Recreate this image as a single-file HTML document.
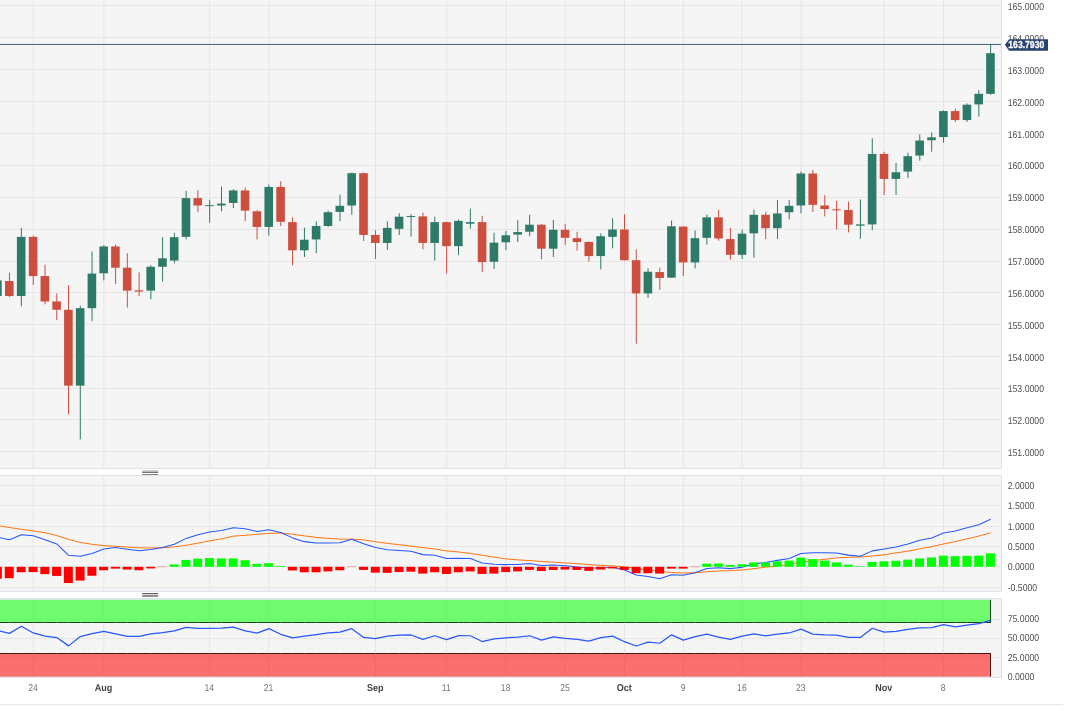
<!DOCTYPE html>
<html><head><meta charset="utf-8"><title>Chart</title>
<style>html,body{margin:0;padding:0;background:#ffffff;overflow:hidden}body{width:1070px;height:711px;position:relative;font-family:"Liberation Sans",sans-serif}</style>
</head><body>
<svg width="1070" height="711" viewBox="0 0 1070 711" style="position:absolute;left:0;top:0;display:block">
<rect x="0" y="0" width="1070" height="711" fill="#ffffff"/>
<rect x="0" y="0" width="1001.5" height="468.4" fill="#f5f5f5"/>
<rect x="0" y="475.4" width="1001.5" height="115.89999999999998" fill="#f5f5f5"/>
<rect x="0" y="598.7" width="1001.5" height="78.59999999999991" fill="#f5f5f5"/>
<rect x="32.75" y="0" width="1" height="468.4" fill="#e6e6e6"/>
<rect x="103.31" y="0" width="1" height="468.4" fill="#e6e6e6"/>
<rect x="209.15" y="0" width="1" height="468.4" fill="#e6e6e6"/>
<rect x="268.38" y="0" width="1" height="468.4" fill="#e6e6e6"/>
<rect x="375" y="0" width="1" height="468.4" fill="#e6e6e6"/>
<rect x="446.14" y="0" width="1" height="468.4" fill="#e6e6e6"/>
<rect x="505.43" y="0" width="1" height="468.4" fill="#e6e6e6"/>
<rect x="564.71" y="0" width="1" height="468.4" fill="#e6e6e6"/>
<rect x="624" y="0" width="1" height="468.4" fill="#e6e6e6"/>
<rect x="682.83" y="0" width="1" height="468.4" fill="#e6e6e6"/>
<rect x="741.67" y="0" width="1" height="468.4" fill="#e6e6e6"/>
<rect x="800.5" y="0" width="1" height="468.4" fill="#e6e6e6"/>
<rect x="883.65" y="0" width="1" height="468.4" fill="#e6e6e6"/>
<rect x="943.05" y="0" width="1" height="468.4" fill="#e6e6e6"/>
<rect x="0" y="451" width="1001.5" height="1" fill="#e6e6e6"/>
<rect x="0" y="419" width="1001.5" height="1" fill="#e6e6e6"/>
<rect x="0" y="388" width="1001.5" height="1" fill="#e6e6e6"/>
<rect x="0" y="356" width="1001.5" height="1" fill="#e6e6e6"/>
<rect x="0" y="324" width="1001.5" height="1" fill="#e6e6e6"/>
<rect x="0" y="292" width="1001.5" height="1" fill="#e6e6e6"/>
<rect x="0" y="261" width="1001.5" height="1" fill="#e6e6e6"/>
<rect x="0" y="229" width="1001.5" height="1" fill="#e6e6e6"/>
<rect x="0" y="197" width="1001.5" height="1" fill="#e6e6e6"/>
<rect x="0" y="165" width="1001.5" height="1" fill="#e6e6e6"/>
<rect x="0" y="133" width="1001.5" height="1" fill="#e6e6e6"/>
<rect x="0" y="101" width="1001.5" height="1" fill="#e6e6e6"/>
<rect x="0" y="69" width="1001.5" height="1" fill="#e6e6e6"/>
<rect x="0" y="37" width="1001.5" height="1" fill="#e6e6e6"/>
<rect x="0" y="5" width="1001.5" height="1" fill="#e6e6e6"/>
<rect x="32.75" y="475.4" width="1" height="115.9" fill="#e6e6e6"/>
<rect x="103.31" y="475.4" width="1" height="115.9" fill="#e6e6e6"/>
<rect x="209.15" y="475.4" width="1" height="115.9" fill="#e6e6e6"/>
<rect x="268.38" y="475.4" width="1" height="115.9" fill="#e6e6e6"/>
<rect x="375" y="475.4" width="1" height="115.9" fill="#e6e6e6"/>
<rect x="446.14" y="475.4" width="1" height="115.9" fill="#e6e6e6"/>
<rect x="505.43" y="475.4" width="1" height="115.9" fill="#e6e6e6"/>
<rect x="564.71" y="475.4" width="1" height="115.9" fill="#e6e6e6"/>
<rect x="624" y="475.4" width="1" height="115.9" fill="#e6e6e6"/>
<rect x="682.83" y="475.4" width="1" height="115.9" fill="#e6e6e6"/>
<rect x="741.67" y="475.4" width="1" height="115.9" fill="#e6e6e6"/>
<rect x="800.5" y="475.4" width="1" height="115.9" fill="#e6e6e6"/>
<rect x="883.65" y="475.4" width="1" height="115.9" fill="#e6e6e6"/>
<rect x="943.05" y="475.4" width="1" height="115.9" fill="#e6e6e6"/>
<rect x="0" y="485" width="1001.5" height="1" fill="#e6e6e6"/>
<rect x="0" y="505" width="1001.5" height="1" fill="#e6e6e6"/>
<rect x="0" y="526" width="1001.5" height="1" fill="#e6e6e6"/>
<rect x="0" y="546" width="1001.5" height="1" fill="#e6e6e6"/>
<rect x="0" y="566" width="1001.5" height="1" fill="#e6e6e6"/>
<rect x="0" y="587" width="1001.5" height="1" fill="#e6e6e6"/>
<rect x="32.75" y="598.7" width="1" height="78.6" fill="#e6e6e6"/>
<rect x="103.31" y="598.7" width="1" height="78.6" fill="#e6e6e6"/>
<rect x="209.15" y="598.7" width="1" height="78.6" fill="#e6e6e6"/>
<rect x="268.38" y="598.7" width="1" height="78.6" fill="#e6e6e6"/>
<rect x="375" y="598.7" width="1" height="78.6" fill="#e6e6e6"/>
<rect x="446.14" y="598.7" width="1" height="78.6" fill="#e6e6e6"/>
<rect x="505.43" y="598.7" width="1" height="78.6" fill="#e6e6e6"/>
<rect x="564.71" y="598.7" width="1" height="78.6" fill="#e6e6e6"/>
<rect x="624" y="598.7" width="1" height="78.6" fill="#e6e6e6"/>
<rect x="682.83" y="598.7" width="1" height="78.6" fill="#e6e6e6"/>
<rect x="741.67" y="598.7" width="1" height="78.6" fill="#e6e6e6"/>
<rect x="800.5" y="598.7" width="1" height="78.6" fill="#e6e6e6"/>
<rect x="883.65" y="598.7" width="1" height="78.6" fill="#e6e6e6"/>
<rect x="943.05" y="598.7" width="1" height="78.6" fill="#e6e6e6"/>
<rect x="0" y="619" width="1001.5" height="1" fill="#e6e6e6"/>
<rect x="0" y="638" width="1001.5" height="1" fill="#e6e6e6"/>
<rect x="0" y="657" width="1001.5" height="1" fill="#e6e6e6"/>
<rect x="-2.95" y="277" width="1" height="21.9" fill="#2e7a68"/>
<rect x="-6.9" y="280.41" width="8.6" height="15.61" fill="#2e7a68"/>
<rect x="8.95" y="272.66" width="1" height="24.32" fill="#cc4e3f"/>
<rect x="5" y="281.03" width="8.6" height="14.99" fill="#cc4e3f"/>
<rect x="20.85" y="227.9" width="1" height="78.36" fill="#2e7a68"/>
<rect x="16.9" y="236.86" width="8.6" height="59.16" fill="#2e7a68"/>
<rect x="32.75" y="235.58" width="1" height="49.17" fill="#cc4e3f"/>
<rect x="28.8" y="236.86" width="8.6" height="39.21" fill="#cc4e3f"/>
<rect x="44.51" y="264.6" width="1" height="39.74" fill="#cc4e3f"/>
<rect x="40.56" y="276.07" width="8.6" height="25.39" fill="#cc4e3f"/>
<rect x="56.27" y="293.46" width="1" height="26.56" fill="#cc4e3f"/>
<rect x="52.32" y="301.46" width="8.6" height="8.32" fill="#cc4e3f"/>
<rect x="68.03" y="285.06" width="1" height="129.17" fill="#cc4e3f"/>
<rect x="64.08" y="309.78" width="8.6" height="75.84" fill="#cc4e3f"/>
<rect x="79.79" y="305.62" width="1" height="133.72" fill="#2e7a68"/>
<rect x="75.84" y="308.18" width="8.6" height="77.44" fill="#2e7a68"/>
<rect x="91.55" y="251.58" width="1" height="69.72" fill="#2e7a68"/>
<rect x="87.6" y="273.59" width="8.6" height="34.59" fill="#2e7a68"/>
<rect x="103.31" y="245.18" width="1" height="35.23" fill="#2e7a68"/>
<rect x="99.36" y="246.46" width="8.6" height="26.82" fill="#2e7a68"/>
<rect x="115.07" y="244.54" width="1" height="39.59" fill="#cc4e3f"/>
<rect x="111.12" y="246.46" width="8.6" height="21.24" fill="#cc4e3f"/>
<rect x="126.83" y="253.18" width="1" height="54.36" fill="#cc4e3f"/>
<rect x="122.88" y="267.7" width="8.6" height="22.94" fill="#cc4e3f"/>
<rect x="138.59" y="272.35" width="1" height="23.67" fill="#cc4e3f"/>
<rect x="134.64" y="290.33" width="8.6" height="1.24" fill="#cc4e3f"/>
<rect x="150.35" y="265.22" width="1" height="34" fill="#2e7a68"/>
<rect x="146.4" y="266.77" width="8.6" height="23.87" fill="#2e7a68"/>
<rect x="162.11" y="237.18" width="1" height="44.47" fill="#2e7a68"/>
<rect x="158.16" y="258.3" width="8.6" height="8.47" fill="#2e7a68"/>
<rect x="173.87" y="232.7" width="1" height="30.66" fill="#2e7a68"/>
<rect x="169.92" y="237.18" width="8.6" height="23.36" fill="#2e7a68"/>
<rect x="185.63" y="190.78" width="1" height="48.64" fill="#2e7a68"/>
<rect x="181.68" y="198.14" width="8.6" height="38.72" fill="#2e7a68"/>
<rect x="197.39" y="190.14" width="1" height="22.08" fill="#cc4e3f"/>
<rect x="193.44" y="198.14" width="8.6" height="7.36" fill="#cc4e3f"/>
<rect x="209.15" y="199.74" width="1" height="23.04" fill="#2e7a68"/>
<rect x="205.2" y="205.16" width="8.6" height="1" fill="#2e7a68"/>
<rect x="221" y="186.62" width="1" height="24.64" fill="#2e7a68"/>
<rect x="217.05" y="203.58" width="8.6" height="1.92" fill="#2e7a68"/>
<rect x="232.84" y="189.18" width="1" height="18.88" fill="#2e7a68"/>
<rect x="228.89" y="190.46" width="8.6" height="12.48" fill="#2e7a68"/>
<rect x="244.69" y="187.58" width="1" height="33.6" fill="#cc4e3f"/>
<rect x="240.74" y="190.46" width="8.6" height="20.16" fill="#cc4e3f"/>
<rect x="256.54" y="210.3" width="1" height="29.12" fill="#cc4e3f"/>
<rect x="252.59" y="211.26" width="8.6" height="15.68" fill="#cc4e3f"/>
<rect x="268.38" y="184.38" width="1" height="51.2" fill="#2e7a68"/>
<rect x="264.43" y="186.94" width="8.6" height="40" fill="#2e7a68"/>
<rect x="280.23" y="181.18" width="1" height="44.8" fill="#cc4e3f"/>
<rect x="276.28" y="186.94" width="8.6" height="34.88" fill="#cc4e3f"/>
<rect x="292.07" y="217.34" width="1" height="47.88" fill="#cc4e3f"/>
<rect x="288.12" y="222.14" width="8.6" height="28.16" fill="#cc4e3f"/>
<rect x="303.92" y="227.58" width="1" height="29.44" fill="#2e7a68"/>
<rect x="299.97" y="239.74" width="8.6" height="10.56" fill="#2e7a68"/>
<rect x="315.77" y="221.5" width="1" height="31.68" fill="#2e7a68"/>
<rect x="311.82" y="225.98" width="8.6" height="13.44" fill="#2e7a68"/>
<rect x="327.61" y="210.62" width="1" height="16.32" fill="#2e7a68"/>
<rect x="323.66" y="212.22" width="8.6" height="13.76" fill="#2e7a68"/>
<rect x="339.46" y="194.62" width="1" height="26.56" fill="#2e7a68"/>
<rect x="335.51" y="205.82" width="8.6" height="6.08" fill="#2e7a68"/>
<rect x="351.31" y="172.54" width="1" height="42.24" fill="#2e7a68"/>
<rect x="347.36" y="173.18" width="8.6" height="32.32" fill="#2e7a68"/>
<rect x="363.15" y="172.54" width="1" height="68.48" fill="#cc4e3f"/>
<rect x="359.2" y="173.18" width="8.6" height="61.76" fill="#cc4e3f"/>
<rect x="375" y="230.14" width="1" height="28.8" fill="#cc4e3f"/>
<rect x="371.05" y="234.94" width="8.6" height="8" fill="#cc4e3f"/>
<rect x="386.86" y="221.5" width="1" height="28.48" fill="#2e7a68"/>
<rect x="382.91" y="227.9" width="8.6" height="15.04" fill="#2e7a68"/>
<rect x="398.71" y="213.18" width="1" height="21.76" fill="#2e7a68"/>
<rect x="394.76" y="216.7" width="8.6" height="12.16" fill="#2e7a68"/>
<rect x="410.57" y="214.14" width="1" height="22.4" fill="#2e7a68"/>
<rect x="406.62" y="216.04" width="8.6" height="1" fill="#2e7a68"/>
<rect x="422.43" y="212.54" width="1" height="36.8" fill="#cc4e3f"/>
<rect x="418.48" y="216.38" width="8.6" height="26.56" fill="#cc4e3f"/>
<rect x="434.29" y="216.7" width="1" height="43.84" fill="#2e7a68"/>
<rect x="430.34" y="222.14" width="8.6" height="20.8" fill="#2e7a68"/>
<rect x="446.14" y="221.5" width="1" height="52.09" fill="#cc4e3f"/>
<rect x="442.19" y="222.14" width="8.6" height="24" fill="#cc4e3f"/>
<rect x="458" y="219.58" width="1" height="35.52" fill="#2e7a68"/>
<rect x="454.05" y="220.86" width="8.6" height="25.28" fill="#2e7a68"/>
<rect x="469.86" y="208.7" width="1" height="19.84" fill="#2e7a68"/>
<rect x="465.91" y="222.14" width="8.6" height="1.6" fill="#2e7a68"/>
<rect x="481.71" y="215.74" width="1" height="56.3" fill="#cc4e3f"/>
<rect x="477.76" y="222.14" width="8.6" height="39.98" fill="#cc4e3f"/>
<rect x="493.57" y="232.7" width="1" height="36.24" fill="#2e7a68"/>
<rect x="489.62" y="242.62" width="8.6" height="19.19" fill="#2e7a68"/>
<rect x="505.43" y="231.1" width="1" height="18.88" fill="#2e7a68"/>
<rect x="501.48" y="235.26" width="8.6" height="7.04" fill="#2e7a68"/>
<rect x="517.29" y="220.22" width="1" height="21.76" fill="#2e7a68"/>
<rect x="513.34" y="232.06" width="8.6" height="2.56" fill="#2e7a68"/>
<rect x="529.14" y="214.78" width="1" height="21.44" fill="#2e7a68"/>
<rect x="525.19" y="224.7" width="8.6" height="7.04" fill="#2e7a68"/>
<rect x="541" y="224.06" width="1" height="35.2" fill="#cc4e3f"/>
<rect x="537.05" y="224.7" width="8.6" height="24" fill="#cc4e3f"/>
<rect x="552.86" y="219.9" width="1" height="37.12" fill="#2e7a68"/>
<rect x="548.91" y="229.82" width="8.6" height="18.88" fill="#2e7a68"/>
<rect x="564.71" y="223.74" width="1" height="21.12" fill="#cc4e3f"/>
<rect x="560.76" y="229.82" width="8.6" height="8" fill="#cc4e3f"/>
<rect x="576.57" y="231.74" width="1" height="18.88" fill="#cc4e3f"/>
<rect x="572.62" y="238.14" width="8.6" height="3.84" fill="#cc4e3f"/>
<rect x="588.43" y="241.34" width="1" height="20.47" fill="#cc4e3f"/>
<rect x="584.48" y="241.98" width="8.6" height="14.08" fill="#cc4e3f"/>
<rect x="600.29" y="233.34" width="1" height="36.22" fill="#2e7a68"/>
<rect x="596.34" y="236.22" width="8.6" height="19.84" fill="#2e7a68"/>
<rect x="612.14" y="218.3" width="1" height="30.08" fill="#2e7a68"/>
<rect x="608.19" y="229.5" width="8.6" height="7.36" fill="#2e7a68"/>
<rect x="624" y="214.14" width="1" height="46.4" fill="#cc4e3f"/>
<rect x="620.05" y="229.5" width="8.6" height="30.72" fill="#cc4e3f"/>
<rect x="635.77" y="249.34" width="1" height="94.36" fill="#cc4e3f"/>
<rect x="631.82" y="260.22" width="8.6" height="33.24" fill="#cc4e3f"/>
<rect x="647.53" y="268.32" width="1" height="29.62" fill="#2e7a68"/>
<rect x="643.58" y="271.73" width="8.6" height="21.73" fill="#2e7a68"/>
<rect x="659.3" y="267.7" width="1" height="22.32" fill="#cc4e3f"/>
<rect x="655.35" y="272.04" width="8.6" height="5.89" fill="#cc4e3f"/>
<rect x="671.07" y="220.54" width="1" height="57.39" fill="#2e7a68"/>
<rect x="667.12" y="226.3" width="8.6" height="51.32" fill="#2e7a68"/>
<rect x="682.83" y="225.98" width="1" height="50.09" fill="#cc4e3f"/>
<rect x="678.88" y="226.62" width="8.6" height="35.81" fill="#cc4e3f"/>
<rect x="694.6" y="230.46" width="1" height="37.86" fill="#2e7a68"/>
<rect x="690.65" y="238.14" width="8.6" height="24.29" fill="#2e7a68"/>
<rect x="706.37" y="214.46" width="1" height="30.08" fill="#2e7a68"/>
<rect x="702.42" y="217.34" width="8.6" height="20.48" fill="#2e7a68"/>
<rect x="718.13" y="209.66" width="1" height="31.04" fill="#cc4e3f"/>
<rect x="714.18" y="217.34" width="8.6" height="21.12" fill="#cc4e3f"/>
<rect x="729.9" y="227.9" width="1" height="31.68" fill="#cc4e3f"/>
<rect x="725.95" y="239.1" width="8.6" height="15.68" fill="#cc4e3f"/>
<rect x="741.67" y="229.5" width="1" height="29.44" fill="#2e7a68"/>
<rect x="737.72" y="233.66" width="8.6" height="21.12" fill="#2e7a68"/>
<rect x="753.43" y="209.66" width="1" height="48" fill="#2e7a68"/>
<rect x="749.48" y="214.78" width="8.6" height="18.56" fill="#2e7a68"/>
<rect x="765.2" y="211.9" width="1" height="27.2" fill="#cc4e3f"/>
<rect x="761.25" y="214.78" width="8.6" height="13.44" fill="#cc4e3f"/>
<rect x="776.97" y="200.06" width="1" height="39.04" fill="#2e7a68"/>
<rect x="773.02" y="213.5" width="8.6" height="14.72" fill="#2e7a68"/>
<rect x="788.73" y="200.06" width="1" height="19.2" fill="#2e7a68"/>
<rect x="784.78" y="205.82" width="8.6" height="6.4" fill="#2e7a68"/>
<rect x="800.5" y="171.58" width="1" height="41.92" fill="#2e7a68"/>
<rect x="796.55" y="173.5" width="8.6" height="32" fill="#2e7a68"/>
<rect x="812.38" y="169.98" width="1" height="41.92" fill="#cc4e3f"/>
<rect x="808.43" y="173.5" width="8.6" height="31.36" fill="#cc4e3f"/>
<rect x="824.26" y="195.26" width="1" height="21.12" fill="#cc4e3f"/>
<rect x="820.31" y="205.5" width="8.6" height="3.52" fill="#cc4e3f"/>
<rect x="836.14" y="201.02" width="1" height="28.48" fill="#cc4e3f"/>
<rect x="832.19" y="209.32" width="8.6" height="1" fill="#cc4e3f"/>
<rect x="848.02" y="201.66" width="1" height="30.72" fill="#cc4e3f"/>
<rect x="844.07" y="209.98" width="8.6" height="14.72" fill="#cc4e3f"/>
<rect x="859.9" y="199.42" width="1" height="39.36" fill="#2e7a68"/>
<rect x="855.95" y="224.38" width="8.6" height="1.28" fill="#2e7a68"/>
<rect x="871.77" y="138.3" width="1" height="91.84" fill="#2e7a68"/>
<rect x="867.82" y="153.98" width="8.6" height="70.4" fill="#2e7a68"/>
<rect x="883.65" y="151.74" width="1" height="43.2" fill="#cc4e3f"/>
<rect x="879.7" y="153.98" width="8.6" height="24.96" fill="#cc4e3f"/>
<rect x="895.53" y="162.94" width="1" height="32" fill="#2e7a68"/>
<rect x="891.58" y="172.22" width="8.6" height="6.72" fill="#2e7a68"/>
<rect x="907.41" y="152.7" width="1" height="25.28" fill="#2e7a68"/>
<rect x="903.46" y="156.22" width="8.6" height="15.36" fill="#2e7a68"/>
<rect x="919.29" y="134.46" width="1" height="26.24" fill="#2e7a68"/>
<rect x="915.34" y="140.54" width="8.6" height="15.04" fill="#2e7a68"/>
<rect x="931.17" y="132.54" width="1" height="19.2" fill="#2e7a68"/>
<rect x="927.22" y="137.34" width="8.6" height="2.88" fill="#2e7a68"/>
<rect x="943.05" y="110.46" width="1" height="32.32" fill="#2e7a68"/>
<rect x="939.1" y="111.1" width="8.6" height="25.92" fill="#2e7a68"/>
<rect x="954.81" y="108.54" width="1" height="13.44" fill="#cc4e3f"/>
<rect x="950.86" y="111.1" width="8.6" height="8.96" fill="#cc4e3f"/>
<rect x="966.58" y="103.42" width="1" height="18.56" fill="#2e7a68"/>
<rect x="962.62" y="104.7" width="8.6" height="15.36" fill="#2e7a68"/>
<rect x="978.34" y="89.98" width="1" height="26.56" fill="#2e7a68"/>
<rect x="974.39" y="93.82" width="8.6" height="10.56" fill="#2e7a68"/>
<rect x="990.1" y="44.22" width="1" height="50.56" fill="#2e7a68"/>
<rect x="986.15" y="53.18" width="8.6" height="40.64" fill="#2e7a68"/>
<rect x="0" y="43.95" width="1002" height="1" fill="#485d82"/>
<clipPath id="c2"><rect x="0" y="475.4" width="1001" height="116"/></clipPath>
<g clip-path="url(#c2)">
<polyline points="-2.45,525.63 9.45,527.5 21.35,529.33 33.25,530.95 45.01,532.78 56.77,535.54 68.53,539.35 80.29,542.48 92.05,544.31 103.81,545.57 115.57,546.3 127.33,547.07 139.09,547.8 150.85,547.96 162.61,547.8 174.37,546.87 186.13,545.28 197.89,543.13 209.65,540.82 221.5,538.87 233.34,536.15 245.19,535.33 257.04,534.32 268.88,533.35 280.73,533.1 292.57,534.24 304.42,535.86 316.27,537.37 328.11,538.38 339.96,539.11 351.81,539.19 363.65,539.92 375.5,541.75 387.36,543.37 399.21,544.67 411.07,546.13 422.93,547.6 434.79,549.06 446.64,550.88 458.5,551.98 470.36,553.44 482.21,555.27 494.07,557.1 505.93,558.92 517.79,559.86 529.64,560.59 541.5,561.52 553.36,562.21 565.21,562.94 577.07,563.67 588.93,564.61 600.79,565.34 612.64,565.87 624.5,566.8 636.27,568.42 648.03,569.93 659.8,571.39 671.57,572.48 683.33,573.01 695.1,572.85 706.87,571.75 718.63,571.02 730.4,570.66 742.17,569.93 753.93,568.63 765.7,567.21 777.47,566.07 789.23,564.4 801,562.21 812.88,560.59 824.76,559.29 836.64,557.87 848.52,557.3 860.4,556.93 872.27,556 884.15,554.74 896.03,552.91 907.91,551.09 919.79,548.9 931.67,546.7 943.55,543.94 955.31,541.55 967.08,538.83 978.84,536.07 990.6,532.78" fill="none" stroke="#ff6d00" stroke-width="0.95" stroke-linejoin="round"/>
<polyline points="-2.45,537.16 9.45,539.72 21.35,534.81 33.25,535.7 45.01,539.72 56.77,543.94 68.53,555.27 80.29,556.2 92.05,553.44 103.81,548.9 115.57,547.6 127.33,549.26 139.09,550.72 150.85,549.42 162.61,547.6 174.37,544.31 186.13,538.38 197.89,534.73 209.65,532.05 221.5,530.58 233.34,527.82 245.19,528.76 257.04,531.48 268.88,529.69 280.73,532.41 292.57,537.89 304.42,541.63 316.27,543.01 328.11,543.01 339.96,542.85 351.81,539.35 363.65,543.74 375.5,547.6 387.36,549.79 399.21,550.56 411.07,551.25 422.93,554.62 434.79,555.27 446.64,558.4 458.5,558.19 470.36,558.56 482.21,562.94 494.07,564.24 505.93,564.61 517.79,564.4 529.64,563.51 541.5,565.5 553.36,564.97 565.21,565.7 577.07,567 588.93,568.02 600.79,568.02 612.64,567.21 624.5,569.93 636.27,575.04 648.03,576.5 659.8,578.86 671.57,574.68 683.33,575.2 695.1,572.65 706.87,568.42 718.63,567.73 730.4,568.63 742.17,567.21 753.93,563.88 765.7,562.58 777.47,560.39 789.23,558.4 801,553.44 812.88,552.71 824.76,552.71 836.64,553.08 848.52,555.11 860.4,556.28 872.27,550.88 884.15,548.9 896.03,547.07 907.91,543.94 919.79,540.29 931.67,537.89 943.55,532.98 955.31,530.95 967.08,527.82 978.84,524.74 990.6,519.26" fill="none" stroke="#2657fb" stroke-width="1.05" stroke-linejoin="round"/>
<rect x="-7.15" y="566.8" width="9.0" height="11.9" fill="#ff0000"/>
<rect x="4.75" y="566.8" width="9.0" height="11.37" fill="#ff0000"/>
<rect x="16.65" y="566.8" width="9.0" height="5.48" fill="#ff0000"/>
<rect x="28.55" y="566.8" width="9.0" height="5.28" fill="#ff0000"/>
<rect x="40.31" y="566.8" width="9.0" height="7.31" fill="#ff0000"/>
<rect x="52.07" y="566.8" width="9.0" height="9.13" fill="#ff0000"/>
<rect x="63.83" y="566.8" width="9.0" height="16.24" fill="#ff0000"/>
<rect x="75.59" y="566.8" width="9.0" height="13.8" fill="#ff0000"/>
<rect x="87.35" y="566.8" width="9.0" height="8.93" fill="#ff0000"/>
<rect x="99.11" y="566.8" width="9.0" height="3.45" fill="#ff0000"/>
<rect x="110.87" y="566.8" width="9.0" height="1.83" fill="#ff0000"/>
<rect x="122.63" y="566.8" width="9.0" height="2.76" fill="#ff0000"/>
<rect x="134.39" y="566.8" width="9.0" height="3.45" fill="#ff0000"/>
<rect x="146.15" y="566.8" width="9.0" height="1.62" fill="#ff0000"/>
<rect x="157.91" y="566.3" width="9.0" height="1" fill="#ff0000" opacity="0.3"/>
<rect x="169.67" y="564.36" width="9.0" height="2.44" fill="#00ff00"/>
<rect x="181.43" y="559.9" width="9.0" height="6.9" fill="#00ff00"/>
<rect x="193.19" y="558.68" width="9.0" height="8.12" fill="#00ff00"/>
<rect x="204.95" y="558.03" width="9.0" height="8.77" fill="#00ff00"/>
<rect x="216.8" y="558.4" width="9.0" height="8.4" fill="#00ff00"/>
<rect x="228.64" y="558.4" width="9.0" height="8.4" fill="#00ff00"/>
<rect x="240.49" y="560.22" width="9.0" height="6.58" fill="#00ff00"/>
<rect x="252.34" y="563.88" width="9.0" height="2.92" fill="#00ff00"/>
<rect x="264.18" y="563.15" width="9.0" height="3.65" fill="#00ff00"/>
<rect x="276.03" y="565.99" width="9.0" height="0.81" fill="#00ff00"/>
<rect x="287.88" y="566.8" width="9.0" height="3.65" fill="#ff0000"/>
<rect x="299.72" y="566.8" width="9.0" height="5.48" fill="#ff0000"/>
<rect x="311.57" y="566.8" width="9.0" height="5.48" fill="#ff0000"/>
<rect x="323.41" y="566.8" width="9.0" height="4.59" fill="#ff0000"/>
<rect x="335.26" y="566.8" width="9.0" height="3.45" fill="#ff0000"/>
<rect x="347.11" y="566.3" width="9.0" height="1" fill="#ff0000" opacity="0.3"/>
<rect x="358.95" y="566.8" width="9.0" height="3.13" fill="#ff0000"/>
<rect x="370.8" y="566.8" width="9.0" height="5.85" fill="#ff0000"/>
<rect x="382.66" y="566.8" width="9.0" height="6.05" fill="#ff0000"/>
<rect x="394.51" y="566.8" width="9.0" height="5.28" fill="#ff0000"/>
<rect x="406.37" y="566.8" width="9.0" height="4.87" fill="#ff0000"/>
<rect x="418.23" y="566.8" width="9.0" height="6.78" fill="#ff0000"/>
<rect x="430.09" y="566.8" width="9.0" height="5.48" fill="#ff0000"/>
<rect x="441.94" y="566.8" width="9.0" height="7.15" fill="#ff0000"/>
<rect x="453.8" y="566.8" width="9.0" height="5.48" fill="#ff0000"/>
<rect x="465.66" y="566.8" width="9.0" height="4.59" fill="#ff0000"/>
<rect x="477.51" y="566.8" width="9.0" height="7.15" fill="#ff0000"/>
<rect x="489.37" y="566.8" width="9.0" height="6.78" fill="#ff0000"/>
<rect x="501.23" y="566.8" width="9.0" height="5.28" fill="#ff0000"/>
<rect x="513.09" y="566.8" width="9.0" height="4.59" fill="#ff0000"/>
<rect x="524.94" y="566.8" width="9.0" height="3.13" fill="#ff0000"/>
<rect x="536.8" y="566.8" width="9.0" height="4.22" fill="#ff0000"/>
<rect x="548.66" y="566.8" width="9.0" height="3.13" fill="#ff0000"/>
<rect x="560.51" y="566.8" width="9.0" height="2.76" fill="#ff0000"/>
<rect x="572.37" y="566.8" width="9.0" height="3.13" fill="#ff0000"/>
<rect x="584.23" y="566.8" width="9.0" height="4.06" fill="#ff0000"/>
<rect x="596.09" y="566.8" width="9.0" height="2.76" fill="#ff0000"/>
<rect x="607.94" y="566.8" width="9.0" height="1.62" fill="#ff0000"/>
<rect x="619.8" y="566.8" width="9.0" height="3.13" fill="#ff0000"/>
<rect x="631.57" y="566.8" width="9.0" height="6.41" fill="#ff0000"/>
<rect x="643.33" y="566.8" width="9.0" height="6.41" fill="#ff0000"/>
<rect x="655.1" y="566.8" width="9.0" height="6.78" fill="#ff0000"/>
<rect x="666.87" y="566.8" width="9.0" height="1.83" fill="#ff0000"/>
<rect x="678.63" y="566.8" width="9.0" height="1.83" fill="#ff0000"/>
<rect x="690.4" y="566.3" width="9.0" height="1" fill="#ff0000" opacity="0.3"/>
<rect x="702.17" y="563.67" width="9.0" height="3.13" fill="#00ff00"/>
<rect x="713.93" y="563.51" width="9.0" height="3.29" fill="#00ff00"/>
<rect x="725.7" y="564.97" width="9.0" height="1.83" fill="#00ff00"/>
<rect x="737.47" y="564.24" width="9.0" height="2.56" fill="#00ff00"/>
<rect x="749.23" y="562.42" width="9.0" height="4.38" fill="#00ff00"/>
<rect x="761" y="562.58" width="9.0" height="4.22" fill="#00ff00"/>
<rect x="772.77" y="561.32" width="9.0" height="5.48" fill="#00ff00"/>
<rect x="784.53" y="560.59" width="9.0" height="6.21" fill="#00ff00"/>
<rect x="796.3" y="557.66" width="9.0" height="9.13" fill="#00ff00"/>
<rect x="808.18" y="559.09" width="9.0" height="7.71" fill="#00ff00"/>
<rect x="820.06" y="560.59" width="9.0" height="6.21" fill="#00ff00"/>
<rect x="831.94" y="562.42" width="9.0" height="4.38" fill="#00ff00"/>
<rect x="843.82" y="564.61" width="9.0" height="2.19" fill="#00ff00"/>
<rect x="855.7" y="566.27" width="9.0" height="0.53" fill="#00ff00"/>
<rect x="867.57" y="561.93" width="9.0" height="4.87" fill="#00ff00"/>
<rect x="879.45" y="561.32" width="9.0" height="5.48" fill="#00ff00"/>
<rect x="891.33" y="560.75" width="9.0" height="6.05" fill="#00ff00"/>
<rect x="903.21" y="559.65" width="9.0" height="7.15" fill="#00ff00"/>
<rect x="915.09" y="558.4" width="9.0" height="8.4" fill="#00ff00"/>
<rect x="926.97" y="557.46" width="9.0" height="9.34" fill="#00ff00"/>
<rect x="938.85" y="555.63" width="9.0" height="11.16" fill="#00ff00"/>
<rect x="950.61" y="556.2" width="9.0" height="10.6" fill="#00ff00"/>
<rect x="962.38" y="555.84" width="9.0" height="10.96" fill="#00ff00"/>
<rect x="974.14" y="555.63" width="9.0" height="11.16" fill="#00ff00"/>
<rect x="985.9" y="553.28" width="9.0" height="13.52" fill="#00ff00"/>
</g>
<rect x="0" y="599.7" width="990.5" height="22.8" fill="#00ff00" fill-opacity="0.54"/>
<rect x="0" y="653.5" width="990.5" height="23.3" fill="#ff0000" fill-opacity="0.55"/>
<rect x="0" y="622" width="991" height="1" fill="#1c441c"/>
<rect x="0" y="653" width="991" height="1" fill="#471313"/>
<rect x="990" y="599.7" width="1" height="23.3" fill="#1c441c"/>
<rect x="990" y="653" width="1" height="23.8" fill="#471313"/>
<rect x="8.95" y="622.3" width="1" height="0.7" fill="#6fd66f" opacity="0.55"/>
<rect x="8.95" y="653" width="1" height="0.7" fill="#e07a7a" opacity="0.5"/>
<rect x="20.85" y="622.3" width="1" height="0.7" fill="#6fd66f" opacity="0.55"/>
<rect x="20.85" y="653" width="1" height="0.7" fill="#e07a7a" opacity="0.5"/>
<rect x="32.75" y="622.3" width="1" height="0.7" fill="#6fd66f" opacity="0.55"/>
<rect x="32.75" y="653" width="1" height="0.7" fill="#e07a7a" opacity="0.5"/>
<rect x="44.51" y="622.3" width="1" height="0.7" fill="#6fd66f" opacity="0.55"/>
<rect x="44.51" y="653" width="1" height="0.7" fill="#e07a7a" opacity="0.5"/>
<rect x="56.27" y="622.3" width="1" height="0.7" fill="#6fd66f" opacity="0.55"/>
<rect x="56.27" y="653" width="1" height="0.7" fill="#e07a7a" opacity="0.5"/>
<rect x="68.03" y="622.3" width="1" height="0.7" fill="#6fd66f" opacity="0.55"/>
<rect x="68.03" y="653" width="1" height="0.7" fill="#e07a7a" opacity="0.5"/>
<rect x="79.79" y="622.3" width="1" height="0.7" fill="#6fd66f" opacity="0.55"/>
<rect x="79.79" y="653" width="1" height="0.7" fill="#e07a7a" opacity="0.5"/>
<rect x="91.55" y="622.3" width="1" height="0.7" fill="#6fd66f" opacity="0.55"/>
<rect x="91.55" y="653" width="1" height="0.7" fill="#e07a7a" opacity="0.5"/>
<rect x="103.31" y="622.3" width="1" height="0.7" fill="#6fd66f" opacity="0.55"/>
<rect x="103.31" y="653" width="1" height="0.7" fill="#e07a7a" opacity="0.5"/>
<rect x="115.07" y="622.3" width="1" height="0.7" fill="#6fd66f" opacity="0.55"/>
<rect x="115.07" y="653" width="1" height="0.7" fill="#e07a7a" opacity="0.5"/>
<rect x="126.83" y="622.3" width="1" height="0.7" fill="#6fd66f" opacity="0.55"/>
<rect x="126.83" y="653" width="1" height="0.7" fill="#e07a7a" opacity="0.5"/>
<rect x="138.59" y="622.3" width="1" height="0.7" fill="#6fd66f" opacity="0.55"/>
<rect x="138.59" y="653" width="1" height="0.7" fill="#e07a7a" opacity="0.5"/>
<rect x="150.35" y="622.3" width="1" height="0.7" fill="#6fd66f" opacity="0.55"/>
<rect x="150.35" y="653" width="1" height="0.7" fill="#e07a7a" opacity="0.5"/>
<rect x="162.11" y="622.3" width="1" height="0.7" fill="#6fd66f" opacity="0.55"/>
<rect x="162.11" y="653" width="1" height="0.7" fill="#e07a7a" opacity="0.5"/>
<rect x="173.87" y="622.3" width="1" height="0.7" fill="#6fd66f" opacity="0.55"/>
<rect x="173.87" y="653" width="1" height="0.7" fill="#e07a7a" opacity="0.5"/>
<rect x="185.63" y="622.3" width="1" height="0.7" fill="#6fd66f" opacity="0.55"/>
<rect x="185.63" y="653" width="1" height="0.7" fill="#e07a7a" opacity="0.5"/>
<rect x="197.39" y="622.3" width="1" height="0.7" fill="#6fd66f" opacity="0.55"/>
<rect x="197.39" y="653" width="1" height="0.7" fill="#e07a7a" opacity="0.5"/>
<rect x="209.15" y="622.3" width="1" height="0.7" fill="#6fd66f" opacity="0.55"/>
<rect x="209.15" y="653" width="1" height="0.7" fill="#e07a7a" opacity="0.5"/>
<rect x="221" y="622.3" width="1" height="0.7" fill="#6fd66f" opacity="0.55"/>
<rect x="221" y="653" width="1" height="0.7" fill="#e07a7a" opacity="0.5"/>
<rect x="232.84" y="622.3" width="1" height="0.7" fill="#6fd66f" opacity="0.55"/>
<rect x="232.84" y="653" width="1" height="0.7" fill="#e07a7a" opacity="0.5"/>
<rect x="244.69" y="622.3" width="1" height="0.7" fill="#6fd66f" opacity="0.55"/>
<rect x="244.69" y="653" width="1" height="0.7" fill="#e07a7a" opacity="0.5"/>
<rect x="256.54" y="622.3" width="1" height="0.7" fill="#6fd66f" opacity="0.55"/>
<rect x="256.54" y="653" width="1" height="0.7" fill="#e07a7a" opacity="0.5"/>
<rect x="268.38" y="622.3" width="1" height="0.7" fill="#6fd66f" opacity="0.55"/>
<rect x="268.38" y="653" width="1" height="0.7" fill="#e07a7a" opacity="0.5"/>
<rect x="280.23" y="622.3" width="1" height="0.7" fill="#6fd66f" opacity="0.55"/>
<rect x="280.23" y="653" width="1" height="0.7" fill="#e07a7a" opacity="0.5"/>
<rect x="292.07" y="622.3" width="1" height="0.7" fill="#6fd66f" opacity="0.55"/>
<rect x="292.07" y="653" width="1" height="0.7" fill="#e07a7a" opacity="0.5"/>
<rect x="303.92" y="622.3" width="1" height="0.7" fill="#6fd66f" opacity="0.55"/>
<rect x="303.92" y="653" width="1" height="0.7" fill="#e07a7a" opacity="0.5"/>
<rect x="315.77" y="622.3" width="1" height="0.7" fill="#6fd66f" opacity="0.55"/>
<rect x="315.77" y="653" width="1" height="0.7" fill="#e07a7a" opacity="0.5"/>
<rect x="327.61" y="622.3" width="1" height="0.7" fill="#6fd66f" opacity="0.55"/>
<rect x="327.61" y="653" width="1" height="0.7" fill="#e07a7a" opacity="0.5"/>
<rect x="339.46" y="622.3" width="1" height="0.7" fill="#6fd66f" opacity="0.55"/>
<rect x="339.46" y="653" width="1" height="0.7" fill="#e07a7a" opacity="0.5"/>
<rect x="351.31" y="622.3" width="1" height="0.7" fill="#6fd66f" opacity="0.55"/>
<rect x="351.31" y="653" width="1" height="0.7" fill="#e07a7a" opacity="0.5"/>
<rect x="363.15" y="622.3" width="1" height="0.7" fill="#6fd66f" opacity="0.55"/>
<rect x="363.15" y="653" width="1" height="0.7" fill="#e07a7a" opacity="0.5"/>
<rect x="375" y="622.3" width="1" height="0.7" fill="#6fd66f" opacity="0.55"/>
<rect x="375" y="653" width="1" height="0.7" fill="#e07a7a" opacity="0.5"/>
<rect x="386.86" y="622.3" width="1" height="0.7" fill="#6fd66f" opacity="0.55"/>
<rect x="386.86" y="653" width="1" height="0.7" fill="#e07a7a" opacity="0.5"/>
<rect x="398.71" y="622.3" width="1" height="0.7" fill="#6fd66f" opacity="0.55"/>
<rect x="398.71" y="653" width="1" height="0.7" fill="#e07a7a" opacity="0.5"/>
<rect x="410.57" y="622.3" width="1" height="0.7" fill="#6fd66f" opacity="0.55"/>
<rect x="410.57" y="653" width="1" height="0.7" fill="#e07a7a" opacity="0.5"/>
<rect x="422.43" y="622.3" width="1" height="0.7" fill="#6fd66f" opacity="0.55"/>
<rect x="422.43" y="653" width="1" height="0.7" fill="#e07a7a" opacity="0.5"/>
<rect x="434.29" y="622.3" width="1" height="0.7" fill="#6fd66f" opacity="0.55"/>
<rect x="434.29" y="653" width="1" height="0.7" fill="#e07a7a" opacity="0.5"/>
<rect x="446.14" y="622.3" width="1" height="0.7" fill="#6fd66f" opacity="0.55"/>
<rect x="446.14" y="653" width="1" height="0.7" fill="#e07a7a" opacity="0.5"/>
<rect x="458" y="622.3" width="1" height="0.7" fill="#6fd66f" opacity="0.55"/>
<rect x="458" y="653" width="1" height="0.7" fill="#e07a7a" opacity="0.5"/>
<rect x="469.86" y="622.3" width="1" height="0.7" fill="#6fd66f" opacity="0.55"/>
<rect x="469.86" y="653" width="1" height="0.7" fill="#e07a7a" opacity="0.5"/>
<rect x="481.71" y="622.3" width="1" height="0.7" fill="#6fd66f" opacity="0.55"/>
<rect x="481.71" y="653" width="1" height="0.7" fill="#e07a7a" opacity="0.5"/>
<rect x="493.57" y="622.3" width="1" height="0.7" fill="#6fd66f" opacity="0.55"/>
<rect x="493.57" y="653" width="1" height="0.7" fill="#e07a7a" opacity="0.5"/>
<rect x="505.43" y="622.3" width="1" height="0.7" fill="#6fd66f" opacity="0.55"/>
<rect x="505.43" y="653" width="1" height="0.7" fill="#e07a7a" opacity="0.5"/>
<rect x="517.29" y="622.3" width="1" height="0.7" fill="#6fd66f" opacity="0.55"/>
<rect x="517.29" y="653" width="1" height="0.7" fill="#e07a7a" opacity="0.5"/>
<rect x="529.14" y="622.3" width="1" height="0.7" fill="#6fd66f" opacity="0.55"/>
<rect x="529.14" y="653" width="1" height="0.7" fill="#e07a7a" opacity="0.5"/>
<rect x="541" y="622.3" width="1" height="0.7" fill="#6fd66f" opacity="0.55"/>
<rect x="541" y="653" width="1" height="0.7" fill="#e07a7a" opacity="0.5"/>
<rect x="552.86" y="622.3" width="1" height="0.7" fill="#6fd66f" opacity="0.55"/>
<rect x="552.86" y="653" width="1" height="0.7" fill="#e07a7a" opacity="0.5"/>
<rect x="564.71" y="622.3" width="1" height="0.7" fill="#6fd66f" opacity="0.55"/>
<rect x="564.71" y="653" width="1" height="0.7" fill="#e07a7a" opacity="0.5"/>
<rect x="576.57" y="622.3" width="1" height="0.7" fill="#6fd66f" opacity="0.55"/>
<rect x="576.57" y="653" width="1" height="0.7" fill="#e07a7a" opacity="0.5"/>
<rect x="588.43" y="622.3" width="1" height="0.7" fill="#6fd66f" opacity="0.55"/>
<rect x="588.43" y="653" width="1" height="0.7" fill="#e07a7a" opacity="0.5"/>
<rect x="600.29" y="622.3" width="1" height="0.7" fill="#6fd66f" opacity="0.55"/>
<rect x="600.29" y="653" width="1" height="0.7" fill="#e07a7a" opacity="0.5"/>
<rect x="612.14" y="622.3" width="1" height="0.7" fill="#6fd66f" opacity="0.55"/>
<rect x="612.14" y="653" width="1" height="0.7" fill="#e07a7a" opacity="0.5"/>
<rect x="624" y="622.3" width="1" height="0.7" fill="#6fd66f" opacity="0.55"/>
<rect x="624" y="653" width="1" height="0.7" fill="#e07a7a" opacity="0.5"/>
<rect x="635.77" y="622.3" width="1" height="0.7" fill="#6fd66f" opacity="0.55"/>
<rect x="635.77" y="653" width="1" height="0.7" fill="#e07a7a" opacity="0.5"/>
<rect x="647.53" y="622.3" width="1" height="0.7" fill="#6fd66f" opacity="0.55"/>
<rect x="647.53" y="653" width="1" height="0.7" fill="#e07a7a" opacity="0.5"/>
<rect x="659.3" y="622.3" width="1" height="0.7" fill="#6fd66f" opacity="0.55"/>
<rect x="659.3" y="653" width="1" height="0.7" fill="#e07a7a" opacity="0.5"/>
<rect x="671.07" y="622.3" width="1" height="0.7" fill="#6fd66f" opacity="0.55"/>
<rect x="671.07" y="653" width="1" height="0.7" fill="#e07a7a" opacity="0.5"/>
<rect x="682.83" y="622.3" width="1" height="0.7" fill="#6fd66f" opacity="0.55"/>
<rect x="682.83" y="653" width="1" height="0.7" fill="#e07a7a" opacity="0.5"/>
<rect x="694.6" y="622.3" width="1" height="0.7" fill="#6fd66f" opacity="0.55"/>
<rect x="694.6" y="653" width="1" height="0.7" fill="#e07a7a" opacity="0.5"/>
<rect x="706.37" y="622.3" width="1" height="0.7" fill="#6fd66f" opacity="0.55"/>
<rect x="706.37" y="653" width="1" height="0.7" fill="#e07a7a" opacity="0.5"/>
<rect x="718.13" y="622.3" width="1" height="0.7" fill="#6fd66f" opacity="0.55"/>
<rect x="718.13" y="653" width="1" height="0.7" fill="#e07a7a" opacity="0.5"/>
<rect x="729.9" y="622.3" width="1" height="0.7" fill="#6fd66f" opacity="0.55"/>
<rect x="729.9" y="653" width="1" height="0.7" fill="#e07a7a" opacity="0.5"/>
<rect x="741.67" y="622.3" width="1" height="0.7" fill="#6fd66f" opacity="0.55"/>
<rect x="741.67" y="653" width="1" height="0.7" fill="#e07a7a" opacity="0.5"/>
<rect x="753.43" y="622.3" width="1" height="0.7" fill="#6fd66f" opacity="0.55"/>
<rect x="753.43" y="653" width="1" height="0.7" fill="#e07a7a" opacity="0.5"/>
<rect x="765.2" y="622.3" width="1" height="0.7" fill="#6fd66f" opacity="0.55"/>
<rect x="765.2" y="653" width="1" height="0.7" fill="#e07a7a" opacity="0.5"/>
<rect x="776.97" y="622.3" width="1" height="0.7" fill="#6fd66f" opacity="0.55"/>
<rect x="776.97" y="653" width="1" height="0.7" fill="#e07a7a" opacity="0.5"/>
<rect x="788.73" y="622.3" width="1" height="0.7" fill="#6fd66f" opacity="0.55"/>
<rect x="788.73" y="653" width="1" height="0.7" fill="#e07a7a" opacity="0.5"/>
<rect x="800.5" y="622.3" width="1" height="0.7" fill="#6fd66f" opacity="0.55"/>
<rect x="800.5" y="653" width="1" height="0.7" fill="#e07a7a" opacity="0.5"/>
<rect x="812.38" y="622.3" width="1" height="0.7" fill="#6fd66f" opacity="0.55"/>
<rect x="812.38" y="653" width="1" height="0.7" fill="#e07a7a" opacity="0.5"/>
<rect x="824.26" y="622.3" width="1" height="0.7" fill="#6fd66f" opacity="0.55"/>
<rect x="824.26" y="653" width="1" height="0.7" fill="#e07a7a" opacity="0.5"/>
<rect x="836.14" y="622.3" width="1" height="0.7" fill="#6fd66f" opacity="0.55"/>
<rect x="836.14" y="653" width="1" height="0.7" fill="#e07a7a" opacity="0.5"/>
<rect x="848.02" y="622.3" width="1" height="0.7" fill="#6fd66f" opacity="0.55"/>
<rect x="848.02" y="653" width="1" height="0.7" fill="#e07a7a" opacity="0.5"/>
<rect x="859.9" y="622.3" width="1" height="0.7" fill="#6fd66f" opacity="0.55"/>
<rect x="859.9" y="653" width="1" height="0.7" fill="#e07a7a" opacity="0.5"/>
<rect x="871.77" y="622.3" width="1" height="0.7" fill="#6fd66f" opacity="0.55"/>
<rect x="871.77" y="653" width="1" height="0.7" fill="#e07a7a" opacity="0.5"/>
<rect x="883.65" y="622.3" width="1" height="0.7" fill="#6fd66f" opacity="0.55"/>
<rect x="883.65" y="653" width="1" height="0.7" fill="#e07a7a" opacity="0.5"/>
<rect x="895.53" y="622.3" width="1" height="0.7" fill="#6fd66f" opacity="0.55"/>
<rect x="895.53" y="653" width="1" height="0.7" fill="#e07a7a" opacity="0.5"/>
<rect x="907.41" y="622.3" width="1" height="0.7" fill="#6fd66f" opacity="0.55"/>
<rect x="907.41" y="653" width="1" height="0.7" fill="#e07a7a" opacity="0.5"/>
<rect x="919.29" y="622.3" width="1" height="0.7" fill="#6fd66f" opacity="0.55"/>
<rect x="919.29" y="653" width="1" height="0.7" fill="#e07a7a" opacity="0.5"/>
<rect x="931.17" y="622.3" width="1" height="0.7" fill="#6fd66f" opacity="0.55"/>
<rect x="931.17" y="653" width="1" height="0.7" fill="#e07a7a" opacity="0.5"/>
<rect x="943.05" y="622.3" width="1" height="0.7" fill="#6fd66f" opacity="0.55"/>
<rect x="943.05" y="653" width="1" height="0.7" fill="#e07a7a" opacity="0.5"/>
<rect x="954.81" y="622.3" width="1" height="0.7" fill="#6fd66f" opacity="0.55"/>
<rect x="954.81" y="653" width="1" height="0.7" fill="#e07a7a" opacity="0.5"/>
<rect x="966.58" y="622.3" width="1" height="0.7" fill="#6fd66f" opacity="0.55"/>
<rect x="966.58" y="653" width="1" height="0.7" fill="#e07a7a" opacity="0.5"/>
<rect x="978.34" y="622.3" width="1" height="0.7" fill="#6fd66f" opacity="0.55"/>
<rect x="978.34" y="653" width="1" height="0.7" fill="#e07a7a" opacity="0.5"/>
<clipPath id="c3"><rect x="0" y="598.7" width="1001" height="79"/></clipPath>
<g clip-path="url(#c3)">
<polyline points="-2.45,630.5 9.45,633.36 21.35,626.25 33.25,632.97 45.01,636.14 56.77,637.61 68.53,645.88 80.29,636.53 92.05,633.67 103.81,631.27 115.57,633.9 127.33,636.29 139.09,636.29 150.85,633.9 162.61,632.74 174.37,630.88 186.13,627.33 197.89,628.49 209.65,628.49 221.5,628.1 233.34,627.17 245.19,630.88 257.04,633.13 268.88,628.64 280.73,634.28 292.57,637.84 304.42,636.14 316.27,634.67 328.11,632.97 339.96,632.04 351.81,628.64 363.65,637.45 375.5,638.54 387.36,636.22 399.21,635.21 411.07,634.98 422.93,639.31 434.79,635.75 446.64,639.7 458.5,635.6 470.36,635.75 482.21,641.55 494.07,638.92 505.93,637.84 517.79,637.22 529.64,635.75 541.5,640.08 553.36,636.91 565.21,638.38 577.07,639.31 588.93,641.16 600.79,637.61 612.64,636.14 624.5,641.71 636.27,646.03 648.03,642.09 659.8,643.25 671.57,634.83 683.33,640.08 695.1,636.53 706.87,634.05 718.63,637.07 730.4,639.46 742.17,636.14 753.93,633.9 765.7,635.83 777.47,634.05 789.23,632.97 801,629.18 812.88,634.05 824.76,634.83 836.64,635.21 848.52,637.45 860.4,637.45 872.27,628.26 884.15,632.2 896.03,631.27 907.91,629.42 919.79,627.95 931.67,627.56 943.55,624.62 955.31,626.79 967.08,625.24 978.84,623.69 990.6,620.29" fill="none" stroke="#2657fb" stroke-width="1.25" stroke-linejoin="round"/>
</g>
<rect x="0" y="467.9" width="1001.5" height="1" fill="#dadfeb"/>
<rect x="1001.0" y="0" width="1" height="468.9" fill="#dadfeb"/>
<rect x="0" y="474.9" width="1001.5" height="1" fill="#dadfeb"/>
<rect x="0" y="590.8" width="1001.5" height="1" fill="#dadfeb"/>
<rect x="1001.0" y="475.4" width="1" height="116.4" fill="#dadfeb"/>
<rect x="0" y="598.2" width="1001.5" height="1" fill="#dadfeb"/>
<rect x="0" y="676.8" width="1001.5" height="1" fill="#dadfeb"/>
<rect x="1001.0" y="598.7" width="1" height="79.1" fill="#dadfeb"/>
<rect x="142.2" y="470.3" width="16" height="1.5" fill="#c6c2c2"/>
<rect x="142.2" y="471.8" width="16" height="1.1" fill="#6d6766"/>
<rect x="142.2" y="474" width="16" height="1" fill="#8a8482"/>
<rect x="142.2" y="593" width="16" height="1.1" fill="#5e5858"/>
<rect x="142.2" y="594.9" width="16" height="2" fill="#8e8989"/>
<rect x="0" y="704.2" width="1063" height="1" fill="#e3e4ec"/>
<g font-family="Liberation Sans, sans-serif" style="will-change:transform;text-rendering:geometricPrecision">
<text transform="translate(1007.7,456.12) scale(0.8808,1)" font-size="9.9" fill="#505050" text-anchor="start">151.0000</text>
<text transform="translate(1007.7,424.26) scale(0.8808,1)" font-size="9.9" fill="#505050" text-anchor="start">152.0000</text>
<text transform="translate(1007.7,392.41) scale(0.8808,1)" font-size="9.9" fill="#505050" text-anchor="start">153.0000</text>
<text transform="translate(1007.7,360.56) scale(0.8808,1)" font-size="9.9" fill="#505050" text-anchor="start">154.0000</text>
<text transform="translate(1007.7,328.7) scale(0.8808,1)" font-size="9.9" fill="#505050" text-anchor="start">155.0000</text>
<text transform="translate(1007.7,296.84) scale(0.8808,1)" font-size="9.9" fill="#505050" text-anchor="start">156.0000</text>
<text transform="translate(1007.7,264.99) scale(0.8808,1)" font-size="9.9" fill="#505050" text-anchor="start">157.0000</text>
<text transform="translate(1007.7,233.14) scale(0.8808,1)" font-size="9.9" fill="#505050" text-anchor="start">158.0000</text>
<text transform="translate(1007.7,201.28) scale(0.8808,1)" font-size="9.9" fill="#505050" text-anchor="start">159.0000</text>
<text transform="translate(1007.7,169.43) scale(0.8808,1)" font-size="9.9" fill="#505050" text-anchor="start">160.0000</text>
<text transform="translate(1007.7,137.57) scale(0.8808,1)" font-size="9.9" fill="#505050" text-anchor="start">161.0000</text>
<text transform="translate(1007.7,105.72) scale(0.8808,1)" font-size="9.9" fill="#505050" text-anchor="start">162.0000</text>
<text transform="translate(1007.7,73.86) scale(0.8808,1)" font-size="9.9" fill="#505050" text-anchor="start">163.0000</text>
<text transform="translate(1007.7,42.01) scale(0.8808,1)" font-size="9.9" fill="#505050" text-anchor="start">164.0000</text>
<text transform="translate(1007.7,10.15) scale(0.8808,1)" font-size="9.9" fill="#505050" text-anchor="start">165.0000</text>
<text transform="translate(1007.7,489) scale(0.8808,1)" font-size="9.9" fill="#505050" text-anchor="start">2.0000</text>
<text transform="translate(1007.7,509.3) scale(0.8808,1)" font-size="9.9" fill="#505050" text-anchor="start">1.5000</text>
<text transform="translate(1007.7,529.6) scale(0.8808,1)" font-size="9.9" fill="#505050" text-anchor="start">1.0000</text>
<text transform="translate(1007.7,549.9) scale(0.8808,1)" font-size="9.9" fill="#505050" text-anchor="start">0.5000</text>
<text transform="translate(1007.7,570.2) scale(0.8808,1)" font-size="9.9" fill="#505050" text-anchor="start">0.0000</text>
<text transform="translate(1007.7,590.5) scale(0.8808,1)" font-size="9.9" fill="#505050" text-anchor="start">-0.5000</text>
<text transform="translate(1007.7,621.92) scale(0.8808,1)" font-size="9.9" fill="#505050" text-anchor="start">75.0000</text>
<text transform="translate(1007.7,641.25) scale(0.8808,1)" font-size="9.9" fill="#505050" text-anchor="start">50.0000</text>
<text transform="translate(1007.7,660.57) scale(0.8808,1)" font-size="9.9" fill="#505050" text-anchor="start">25.0000</text>
<text transform="translate(1007.7,679.9) scale(0.8808,1)" font-size="9.9" fill="#505050" text-anchor="start">0.0000</text>
<text transform="translate(32.95,691.3) scale(0.8717,1)" font-size="9.9" fill="#777777" text-anchor="middle">24</text>
<text transform="translate(103.51,691.3) scale(0.9141,1)" font-size="9.9" font-weight="bold" fill="#444444" text-anchor="middle">Aug</text>
<text transform="translate(209.35,691.3) scale(0.8717,1)" font-size="9.9" fill="#777777" text-anchor="middle">14</text>
<text transform="translate(268.58,691.3) scale(0.8717,1)" font-size="9.9" fill="#777777" text-anchor="middle">21</text>
<text transform="translate(375.2,691.3) scale(0.9141,1)" font-size="9.9" font-weight="bold" fill="#444444" text-anchor="middle">Sep</text>
<text transform="translate(446.34,691.3) scale(0.8717,1)" font-size="9.9" fill="#777777" text-anchor="middle">11</text>
<text transform="translate(505.63,691.3) scale(0.8717,1)" font-size="9.9" fill="#777777" text-anchor="middle">18</text>
<text transform="translate(564.91,691.3) scale(0.8717,1)" font-size="9.9" fill="#777777" text-anchor="middle">25</text>
<text transform="translate(624.2,691.3) scale(0.9141,1)" font-size="9.9" font-weight="bold" fill="#444444" text-anchor="middle">Oct</text>
<text transform="translate(683.03,691.3) scale(0.8717,1)" font-size="9.9" fill="#777777" text-anchor="middle">9</text>
<text transform="translate(741.87,691.3) scale(0.8717,1)" font-size="9.9" fill="#777777" text-anchor="middle">16</text>
<text transform="translate(800.7,691.3) scale(0.8717,1)" font-size="9.9" fill="#777777" text-anchor="middle">23</text>
<text transform="translate(883.85,691.3) scale(0.9141,1)" font-size="9.9" font-weight="bold" fill="#444444" text-anchor="middle">Nov</text>
<text transform="translate(943.25,691.3) scale(0.8717,1)" font-size="9.9" fill="#777777" text-anchor="middle">8</text>
<path d="M1004.9 44.8 L1009 39.3 L1048 39.3 L1048 50.7 L1009 50.7 Z" fill="#27436e"/>
<text transform="translate(1008.3,48.1) scale(0.846,1)" font-size="10.2" font-weight="bold" fill="#ffffff" stroke="#ffffff" stroke-width="0.3">163.7930</text>
</g>
</svg>
</body></html>
